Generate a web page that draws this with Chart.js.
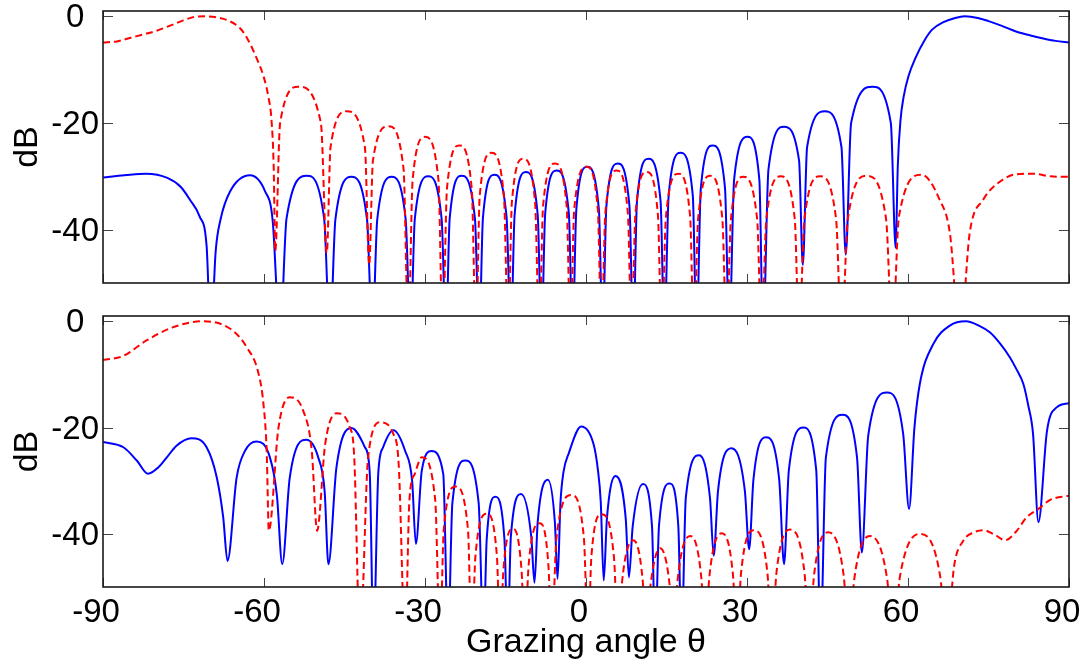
<!DOCTYPE html>
<html>
<head>
<meta charset="utf-8">
<script src="https://cdn.jsdelivr.net/npm/chart.js@4.4.1/dist/chart.umd.min.js"></script>
<style>
    html, body { margin: 0; padding: 0; background: #fff; }
    #wrap { position: relative; width: 1088px; height: 667px; }
    canvas { position: absolute; left: 0; }
    #topChart { top: 0; }
    #bottomChart { top: 300px; }
</style>
</head>
<body>
<div id="wrap">
    <canvas id="topChart" width="1088" height="300"></canvas>
    <canvas id="bottomChart" width="1088" height="367"></canvas>
</div>
<script>
// Axis ticks
const angleTicks = [-90, -60, -30, 0, 30, 60, 90];
const dbTicks = [-40, -20, 0];

// Each series: [grazing angle (deg), level (dB)].
// Nulls that fall below the -50 dB floor are given as -60.
const topRed = [
    [-90,-4.9],[-87.4,-4.7],[-85,-4.05],[-82.5,-3.4],[-80,-2.7],[-77.5,-1.75],[-75,-0.75],[-73.2,-0.15],[-71,0],[-68.8,-0.2],[-66.3,-0.95],[-64.5,-2.2],[-63.2,-4.0],[-61.4,-7.8],[-60.1,-11.2],[-59.2,-15],[-58.6,-19.5],[-58.2,-28],[-57.9,-44],
    [-57.0,-20],[-53.6,-13.2],[-49.4,-20],[-48.3,-44.4],
    [-47.6,-24.5],[-44.6,-17.8],[-41.2,-24.5],[-40.4,-46.6],
    [-39.7,-27],[-36.8,-20.6],[-34.0,-28.6],[-33.1,-60],
    [-32.3,-30.6],[-30.0,-22.6],[-27.5,-30.6],[-26.7,-60],
    [-25.9,-32.2],[-23.6,-24.2],[-21.3,-32.2],[-20.5,-60],
    [-19.8,-33.6],[-17.6,-25.6],[-15.3,-33.6],[-14.5,-60],
    [-13.8,-34.7],[-11.7,-26.7],[-9.5,-34.7],[-8.7,-60],
    [-8.0,-35.6],[-5.8,-27.6],[-3.6,-35.6],[-2.9,-60],
    [-2.2,-36.2],[0.1,-28.2],[2.2,-36.2],[2.9,-60],
    [3.6,-36.9],[5.7,-28.9],[7.8,-36.9],[8.5,-60],
    [9.2,-37.2],[11.3,-29.2],[13.4,-37.2],[14.1,-60],
    [14.9,-37.5],[17.2,-29.5],[19.4,-37.5],[20.1,-60],
    [20.9,-37.9],[23.1,-29.9],[25.4,-37.9],[26.2,-60],
    [27.0,-38.1],[29.3,-30.1],[31.9,-38.1],[32.7,-60],
    [33.6,-38],[36.3,-30],[38.9,-38],[39.7,-60],
    [40.7,-38],[43.6,-30],[46.6,-38],[47.6,-60],
    [48.8,-37.9],[52.3,-29.9],[55.9,-37.9],[57.1,-60],
    [58.3,-37.6],[62.5,-29.7],[65.9,-34.4],[67.8,-40.6],[69.7,-60],
    [71.5,-40.6],[74.0,-34.4],[77.7,-30.6],[80.2,-29.6],[83.3,-29.5],[86.5,-30],[90,-30.1]
];

const topBlue = [
    [-90,-30.2],[-86,-29.8],[-82,-29.5],[-78,-30.3],[-75.5,-32],[-73.8,-34.4],[-72,-37.5],[-70.7,-43],[-69.9,-60],
    [-69.0,-44],[-68.1,-38.1],[-66.3,-32.8],[-62.6,-29.8],[-59.8,-32.8],[-58.4,-38.1],[-57.0,-60],
    [-55.8,-37.9],[-52.0,-29.9],[-48.8,-37.9],[-47.7,-60],
    [-46.7,-38.1],[-43.7,-30.1],[-40.8,-38.1],[-39.8,-60],
    [-38.9,-38.1],[-36.2,-30.1],[-33.6,-38.1],[-32.7,-60],
    [-31.9,-38],[-29.4,-30],[-26.9,-38],[-26.1,-60],
    [-25.4,-37.9],[-23.2,-29.9],[-20.7,-37.9],[-19.9,-60],
    [-19.2,-37.7],[-17.1,-29.7],[-14.8,-37.7],[-14.0,-60],
    [-13.3,-37.2],[-11.2,-29.2],[-9.0,-37.2],[-8.3,-60],
    [-7.6,-36.9],[-5.5,-28.9],[-3.2,-36.9],[-2.5,-60],
    [-1.8,-36.2],[0.2,-28.2],[2.4,-36.2],[3.1,-60],
    [3.8,-35.6],[5.9,-27.6],[8.1,-35.6],[8.8,-60],
    [9.5,-34.7],[11.6,-26.7],[13.9,-34.7],[14.6,-60],
    [15.4,-33.6],[17.6,-25.6],[19.9,-33.6],[20.6,-60],
    [21.4,-32.2],[23.6,-24.2],[25.9,-32.2],[26.7,-60],
    [27.6,-30.6],[30.1,-22.6],[32.3,-30.6],[33.0,-60],
    [34.0,-28.7],[36.9,-20.7],[39.7,-27],[40.4,-46.6],
    [41.2,-24.5],[44.5,-17.8],[47.6,-24.5],[48.4,-44.7],
    [49.4,-20],[53.4,-13.2],[56.8,-20],[57.7,-43.4],
    [58.1,-28],[58.6,-19.5],[59.2,-15],[60.1,-11.2],[61.4,-7.8],[63.2,-4.3],[64.5,-2.5],[66.6,-1.1],[68.8,-0.3],[70.6,0],[73,-0.3],[75,-0.9],[77.5,-1.8],[80,-2.8],[82.5,-3.5],[85,-4.1],[87.5,-4.6],[90,-4.9]
];

const bottomRed = [
    [-90,-7.3],[-86.2,-6.5],[-81.9,-3.6],[-76.9,-1.1],[-71.6,0],[-66.3,-1.4],[-63.2,-4.9],[-61.0,-9.9],[-60.1,-15.6],[-59.5,-24.4],[-59.1,-39.4],
    [-57.3,-20],[-55.2,-14.3],[-52.7,-16.8],[-51.1,-24.4],[-50.1,-39.4],
    [-48.6,-23.1],[-46.5,-17.3],[-44.0,-20],[-43.2,-25.3],[-42.1,-60],
    [-40.6,-25.6],[-38.3,-19.0],[-35.9,-21.2],[-34.9,-27],[-33.7,-60],
    [-32.9,-33.6],[-31.9,-28.7],[-30.6,-25.6],[-28.1,-33.6],[-27.2,-60],
    [-26.5,-39.1],[-24.3,-31.1],[-22.0,-39.1],[-21.3,-60],
    [-20.6,-44.2],[-18.5,-36.2],[-16.6,-44.2],[-16.0,-60],
    [-15.4,-47],[-13.6,-39],[-12.0,-47],[-11.4,-60],
    [-10.7,-46],[-8.6,-38],[-7.0,-46],[-6.4,-60],
    [-5.5,-40.7],[-2.7,-32.7],[-0.4,-40.7],[0.4,-60],
    [1.0,-44.3],[2.9,-36.3],[5.2,-44.3],[6.0,-60],
    [6.7,-49.2],[8.8,-41.2],[10.6,-49.2],[11.2,-60],
    [11.9,-50.7],[13.8,-42.7],[15.7,-50.7],[16.3,-60],
    [17.1,-48.4],[19.4,-40.4],[21.5,-48.4],[22.2,-60],
    [23.0,-47.9],[25.3,-39.9],[27.4,-47.9],[28.1,-60],
    [28.9,-47.3],[31.2,-39.3],[33.8,-47.3],[34.6,-60],
    [35.5,-47.2],[38.0,-39.2],[40.7,-47.2],[41.6,-60],
    [42.5,-47.7],[45.1,-39.7],[48.0,-47.7],[49.0,-60],
    [50.0,-48.4],[52.9,-40.4],[56.1,-48.4],[57.2,-60],
    [58.5,-48],[62.2,-40],[66.0,-48],[67.2,-60],
    [68.6,-46],[70.3,-41.3],[72.3,-39.7],[74.0,-39.3],[76.2,-40.2],[78.1,-41.2],[80.2,-39.5],[82.1,-36.9],[84.3,-35.3],[86.5,-33.6],[90,-32.8]
];

const bottomBlue = [
    [-90,-22.7],[-86.2,-23.7],[-83.7,-26.2],[-81.6,-28.7],[-79.7,-27.5],[-78.1,-25.6],[-76.3,-23.4],[-73.5,-22.0],[-70.7,-23.7],[-68.8,-29.4],[-67.6,-36.9],[-66.8,-45.1],
    [-65.1,-29.4],[-63.5,-24.3],[-61.4,-22.6],[-58.9,-25.6],[-57.6,-32.7],[-56.6,-45.7],
    [-55.2,-29.4],[-52.1,-22.3],[-49.9,-25.6],[-48.7,-32],[-48.0,-45.7],
    [-46.5,-27.5],[-43.7,-20.1],[-41.2,-23.7],[-40.3,-28.5],[-39.6,-60],
    [-38.7,-28.5],[-37.8,-23.7],[-35.9,-20.5],[-33.7,-24.4],[-32.4,-30],[-31.7,-41.9],
    [-30.6,-28.1],[-28.8,-24.4],[-26.6,-28.7],[-25.7,-60],
    [-24.9,-34.2],[-22.5,-26.2],[-20.0,-34.2],[-19.1,-60],
    [-18.5,-41],[-16.9,-33],[-15.2,-41],[-14.6,-60],
    [-14.0,-40.5],[-12.1,-32.5],[-10.2,-40.5],[-9.6,-49.2],
    [-9.0,-37.8],[-7.1,-29.8],[-5.8,-37.8],[-5.3,-48.5],
    [-4.75,-34],[-4.2,-28.4],[-3.2,-24.8],[-0.9,-19.8],[1.4,-23.1],[2.2,-27.8],[2.75,-34],[3.3,-48.8],
    [3.9,-37.1],[5.5,-29.1],[7.4,-37.1],[8.0,-48.2],
    [8.7,-38.6],[10.6,-30.6],[12.3,-38.6],[12.9,-60],
    [13.6,-38.5],[15.6,-30.5],[17.2,-38.5],[17.8,-60],
    [18.6,-33.2],[21.1,-25.2],[23.1,-33.2],[23.8,-44.1],
    [24.6,-31.9],[27.1,-23.9],[29.6,-31.9],[30.4,-42.9],
    [31.2,-29.8],[33.5,-21.8],[36.0,-29.8],[36.9,-45.7],
    [37.8,-28],[40.5,-20],[42.9,-28],[43.7,-60],
    [44.7,-25.6],[47.8,-17.6],[50.5,-25.6],[51.4,-43.5],
    [52.6,-21.4],[56.1,-13.4],[59.1,-21.2],[60.2,-35.3],
    [61.2,-20],[62.2,-11.8],[64.7,-4.3],[67.8,-0.8],[70.8,0],[73.2,-0.8],[75.3,-2.1],[77.1,-4.1],[79.0,-6.8],[80.2,-9],[81.5,-11.8],[82.4,-15.8],[83.3,-21.2],[84.3,-37.8],[85.9,-20.6],[87.7,-16.2],[90,-15.4]
];

const FONT = "'Liberation Sans', Arial, Helvetica, sans-serif";

// Box around the plot with inward ticks, drawn over the curves
const matlabAxes = {
    id: 'matlabAxes',
    afterDatasetsDraw(chart) {
        const ctx = chart.ctx;
        const a = chart.chartArea;
        const xs = chart.scales.x;
        const ys = chart.scales.y;
        ctx.save();
        ctx.strokeStyle = '#444';
        ctx.lineWidth = 1;
        ctx.beginPath();
        angleTicks.forEach(function(v) {
            const px = Math.round(xs.getPixelForValue(v)) + 0.5;
            ctx.moveTo(px, a.bottom);
            ctx.lineTo(px, a.bottom - 9);
            ctx.moveTo(px, a.top);
            ctx.lineTo(px, a.top + 9);
        });
        dbTicks.forEach(function(v) {
            const py = Math.round(ys.getPixelForValue(v)) + 0.5;
            ctx.moveTo(a.left, py);
            ctx.lineTo(a.left + 10, py);
            ctx.moveTo(a.right, py);
            ctx.lineTo(a.right - 10, py);
        });
        ctx.stroke();
        ctx.strokeStyle = '#1a1a1a';
        ctx.lineWidth = 1.6;
        ctx.strokeRect(a.left, a.top, a.right - a.left, a.bottom - a.top);
        ctx.restore();
    }
};

function makeChart(canvasId, redData, blueData, showX, padding, xHeight) {
    return new Chart(document.getElementById(canvasId), {
        type: 'line',
        data: {
            datasets: [
                {
                    data: redData,
                    borderColor: '#ff0000',
                    borderWidth: 2,
                    borderDash: [7, 4]
                },
                {
                    data: blueData,
                    borderColor: '#0000ff',
                    borderWidth: 2
                }
            ]
        },
        options: {
            responsive: false,
            animation: false,
            devicePixelRatio: 1,
            layout: { padding: padding },
            elements: {
                point: { radius: 0 },
                line: { cubicInterpolationMode: 'monotone', capBezierPoints: false, fill: false }
            },
            plugins: {
                legend: { display: false },
                tooltip: { enabled: false }
            },
            scales: {
                x: {
                    type: 'linear',
                    min: -90,
                    max: 90,
                    display: showX,
                    afterBuildTicks: function(s) { s.ticks = angleTicks.map(v => ({ value: v })); },
                    afterFit: function(s) { s.height = xHeight; s.paddingLeft = 0; s.paddingRight = 0; },
                    grid: { display: false, drawTicks: false },
                    border: { display: false },
                    ticks: {
                        color: '#000',
                        font: { family: FONT, size: 33 },
                        padding: 6,
                        labelOffset: -7,
                        maxRotation: 0,
                        autoSkip: false
                    },
                    title: {
                        display: true,
                        text: 'Grazing angle θ',
                        color: '#000',
                        font: { family: FONT, size: 34 },
                        padding: { top: 0, bottom: 4 }
                    }
                },
                y: {
                    min: -50,
                    max: 1,
                    afterBuildTicks: function(s) { s.ticks = dbTicks.map(v => ({ value: v })); },
                    afterFit: function(s) { s.width = 103; s.paddingTop = 0; s.paddingBottom = 0; },
                    grid: { display: false, drawTicks: false },
                    border: { display: false },
                    ticks: {
                        color: '#000',
                        font: { family: FONT, size: 33 },
                        padding: 4,
                        crossAlign: 'center',
                        labelOffset: 2
                    },
                    title: {
                        display: true,
                        text: 'dB',
                        color: '#000',
                        font: { family: FONT, size: 34 },
                        padding: { top: 7, bottom: 0 }
                    }
                }
            }
        },
        plugins: [matlabAxes]
    });
}

makeChart('topChart', topRed, topBlue, false, { top: 11, bottom: 17, left: 0, right: 19 }, 0);
makeChart('bottomChart', bottomRed, bottomBlue, true, { top: 16, bottom: 0, left: 0, right: 19 }, 80);
</script>
</body>
</html>
